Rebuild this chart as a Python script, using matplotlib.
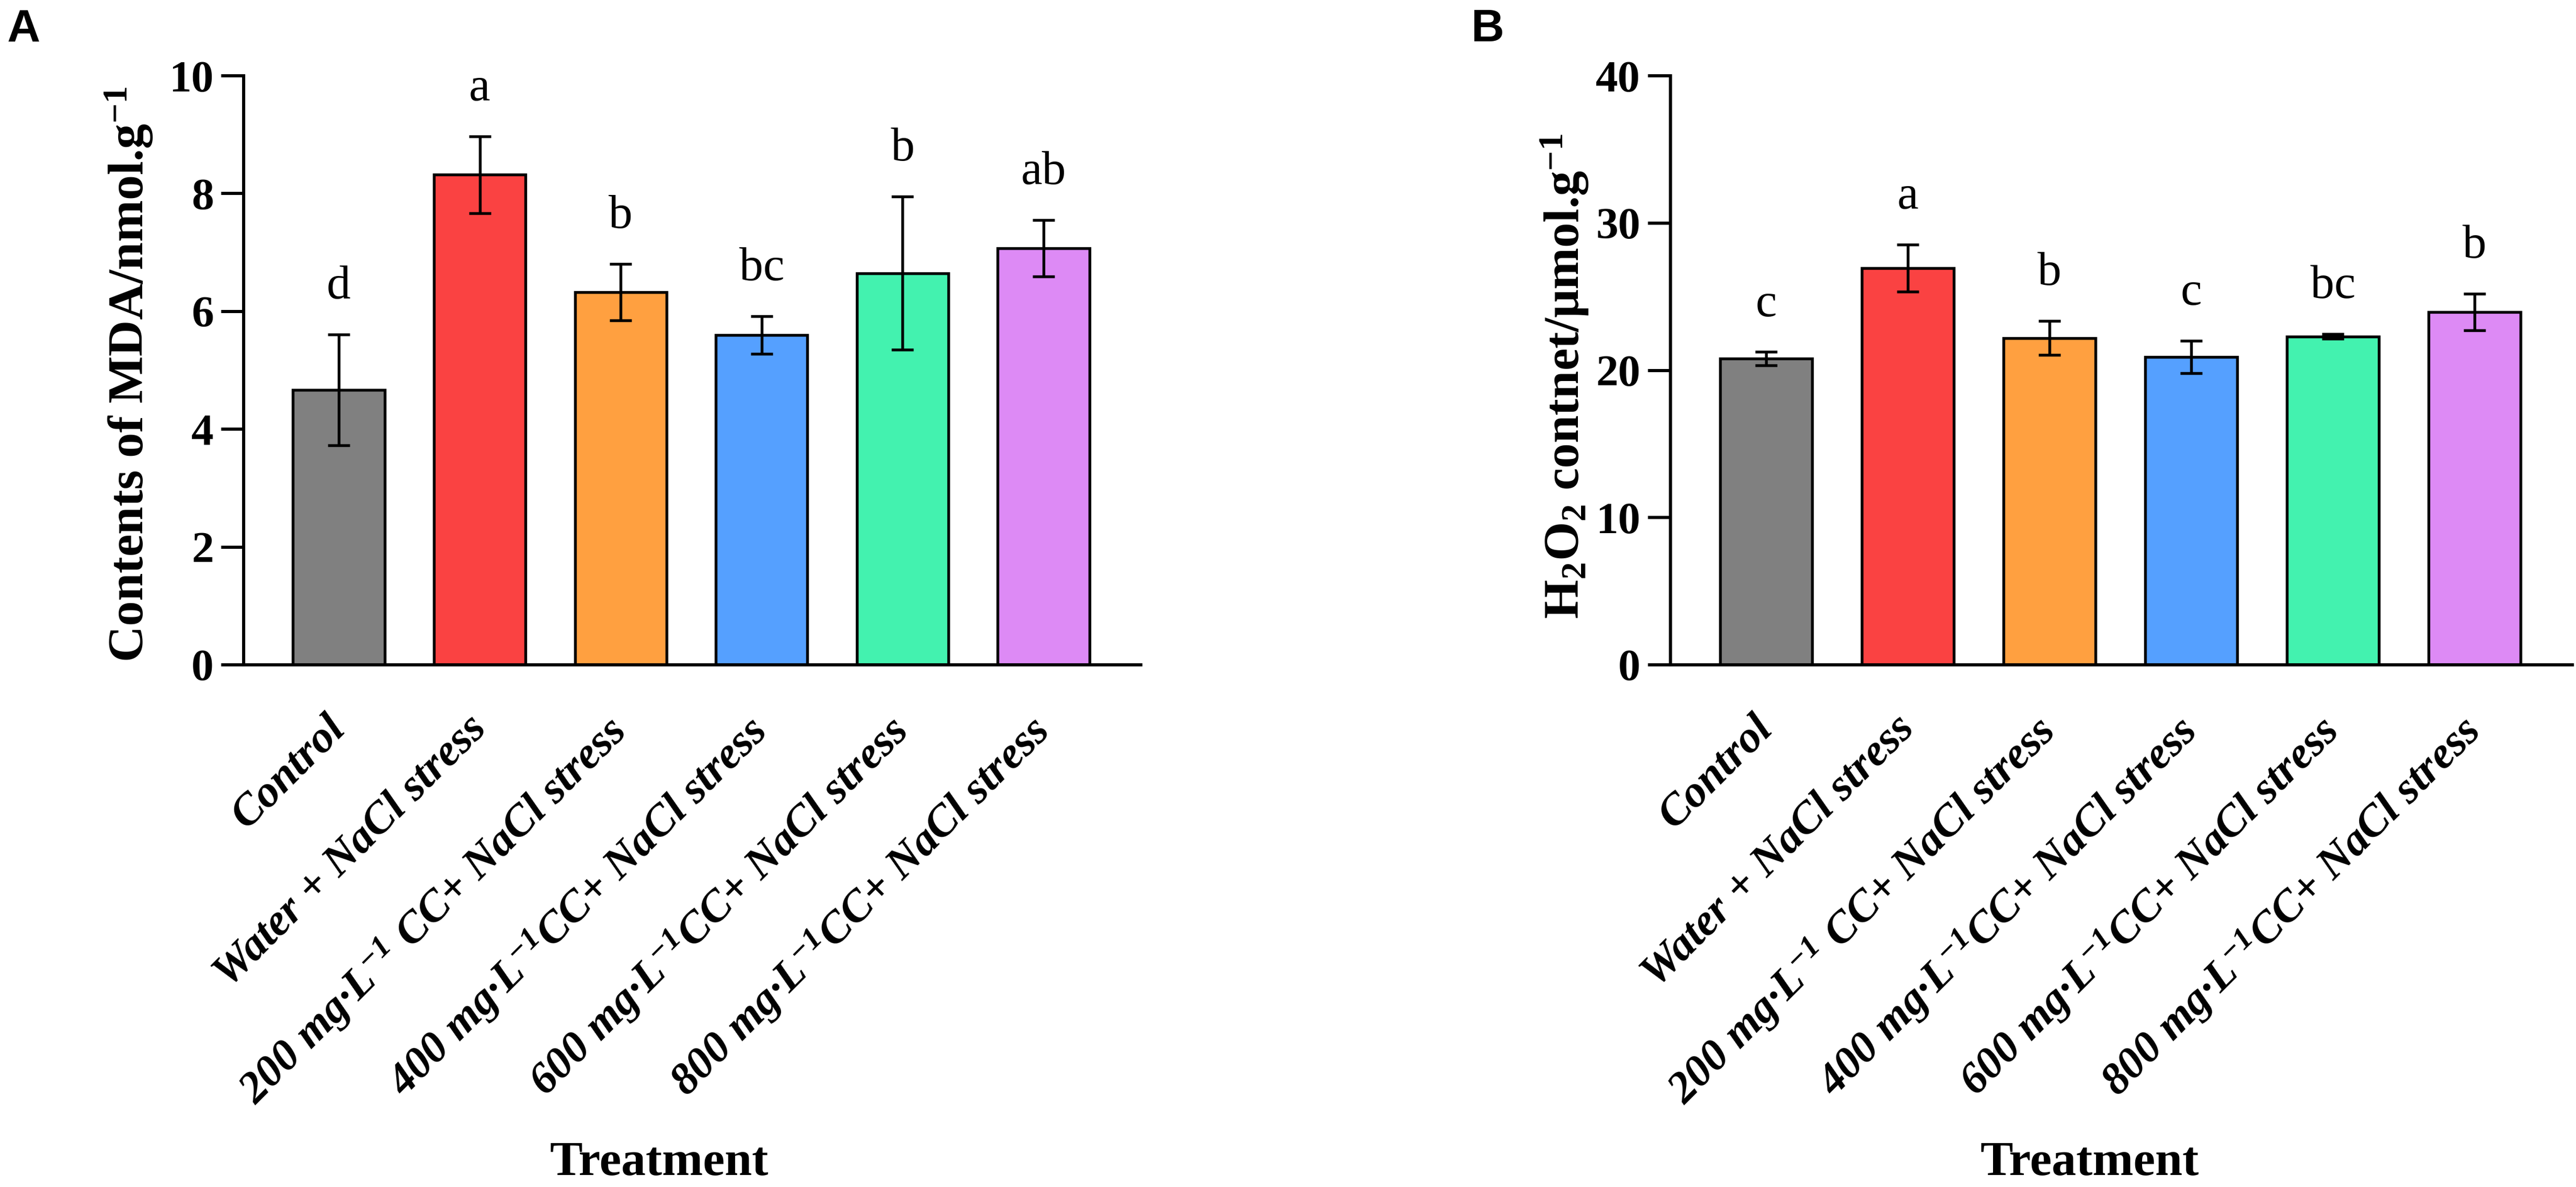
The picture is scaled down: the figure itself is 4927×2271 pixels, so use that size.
import matplotlib
matplotlib.use("Agg")
import matplotlib.pyplot as plt
import matplotlib.transforms as mtransforms
import numpy as np

plt.rcParams['font.family'] = ['Liberation Serif', 'DejaVu Serif']
plt.rcParams['mathtext.fontset'] = 'custom'
plt.rcParams['mathtext.rm'] = 'Liberation Serif'
plt.rcParams['mathtext.bf'] = 'Liberation Serif:bold'
plt.rcParams['mathtext.it'] = 'Liberation Serif:italic'
plt.rcParams['mathtext.bfit'] = 'Liberation Serif:bold:italic'

# ---------------- data ----------------
categories = [
    "Control",
    "Water + NaCl stress",
    r"200 mg·L$^{\mathbfit{-1}}$ CC+ NaCl stress",
    r"400 mg·L$^{\mathbfit{-1}}$CC+ NaCl stress",
    r"600 mg·L$^{\mathbfit{-1}}$CC+ NaCl stress",
    r"800 mg·L$^{\mathbfit{-1}}$CC+ NaCl stress",
]
colors = ["#808080", "#FA4242", "#FFA040", "#55A0FF", "#43F2AF", "#DD8AF5"]

mda_mean = [4.67, 8.32, 6.33, 5.60, 6.65, 7.07]
mda_err = [0.94, 0.65, 0.48, 0.32, 1.30, 0.48]
mda_letters = ["d", "a", "b", "bc", "b", "ab"]

h2o2_mean = [20.8, 26.95, 22.2, 20.9, 22.3, 23.95]
h2o2_err = [0.45, 1.6, 1.15, 1.1, 0.17, 1.25]
h2o2_letters = ["c", "a", "b", "c", "bc", "b"]

W, H = 4927, 2271
DPI = 300
fig = plt.figure(figsize=(W / DPI, H / DPI), dpi=DPI)

def px(x):
    return x / W

def py(y):
    return 1 - y / H

def make_panel(left_px, right_px, means, errs, letters, ymax, yticks, ylabel,
               ylabel_x, ylabel_y, xlabel_x, panel_letter, letter_x):
    top_px, bot_px = 145, 1272
    ax = fig.add_axes([px(left_px), py(bot_px), px(right_px - left_px),
                       (bot_px - top_px) / H])
    x = np.arange(len(means))
    ax.bar(x, means, width=0.65, color=colors, edgecolor="black",
           linewidth=1.3, zorder=2)
    ax.errorbar(x, means, yerr=errs, fmt="none", ecolor="black",
                elinewidth=1.3, capsize=5, capthick=1.3, zorder=3)
    for xi, m, e, lab in zip(x, means, errs, letters):
        ax.annotate(lab, (xi, m + e), xytext=(0, 16.5),
                    textcoords="offset points", ha="center", va="baseline",
                    fontsize=22)
    ax.set_xlim(-0.675, 5.69)
    ax.set_ylim(0, ymax)
    ax.set_yticks(yticks)
    ax.set_yticklabels([str(t) for t in yticks], fontsize=20.5,
                       fontweight="bold")
    ax.tick_params(axis="y", length=10.3, width=1.45, pad=3.5)
    ax.tick_params(axis="x", length=0, pad=20)
    ax.set_xticks(x)
    ax.set_xticklabels(categories, rotation=45, ha="right", va="top",
                       fontsize=20.5, fontweight="bold", fontstyle="italic")
    offset = mtransforms.ScaledTranslation(28 / DPI, 0, fig.dpi_scale_trans)
    for lbl in ax.get_xticklabels():
        lbl.set_transform(lbl.get_transform() + offset)
    for s in ["top", "right"]:
        ax.spines[s].set_visible(False)
    ax.spines["left"].set_linewidth(1.45)
    ax.spines["bottom"].set_linewidth(1.45)
    ax.spines["left"].set_bounds(0, ymax)
    fig.text(px(ylabel_x), py(ylabel_y), ylabel, rotation=90,
             rotation_mode="anchor", ha="center", va="baseline",
             fontsize=23, fontweight="bold")
    fig.text(px(xlabel_x), py(2248), "Treatment", ha="center",
             va="baseline", fontsize=22.5, fontweight="bold")
    fig.text(px(letter_x), py(16), panel_letter, ha="left", va="top",
             fontsize=21, fontweight="bold", family="Liberation Sans")
    return ax

make_panel(466, 2182, mda_mean, mda_err, mda_letters, 10, [0, 2, 4, 6, 8, 10],
           r"Contents of MDA/nmol.g$^{\mathbf{-1}}$", 274, 716, 1261, "A", 14)
make_panel(3195, 4920, h2o2_mean, h2o2_err, h2o2_letters, 40,
           [0, 10, 20, 30, 40],
           r"H$_{\mathbf{2}}$O$_{\mathbf{2}}$ contnet/μmol.g$^{\mathbf{-1}}$",
           3020, 720, 3997, "B", 2813)

fig.savefig("out.png", dpi=DPI)
